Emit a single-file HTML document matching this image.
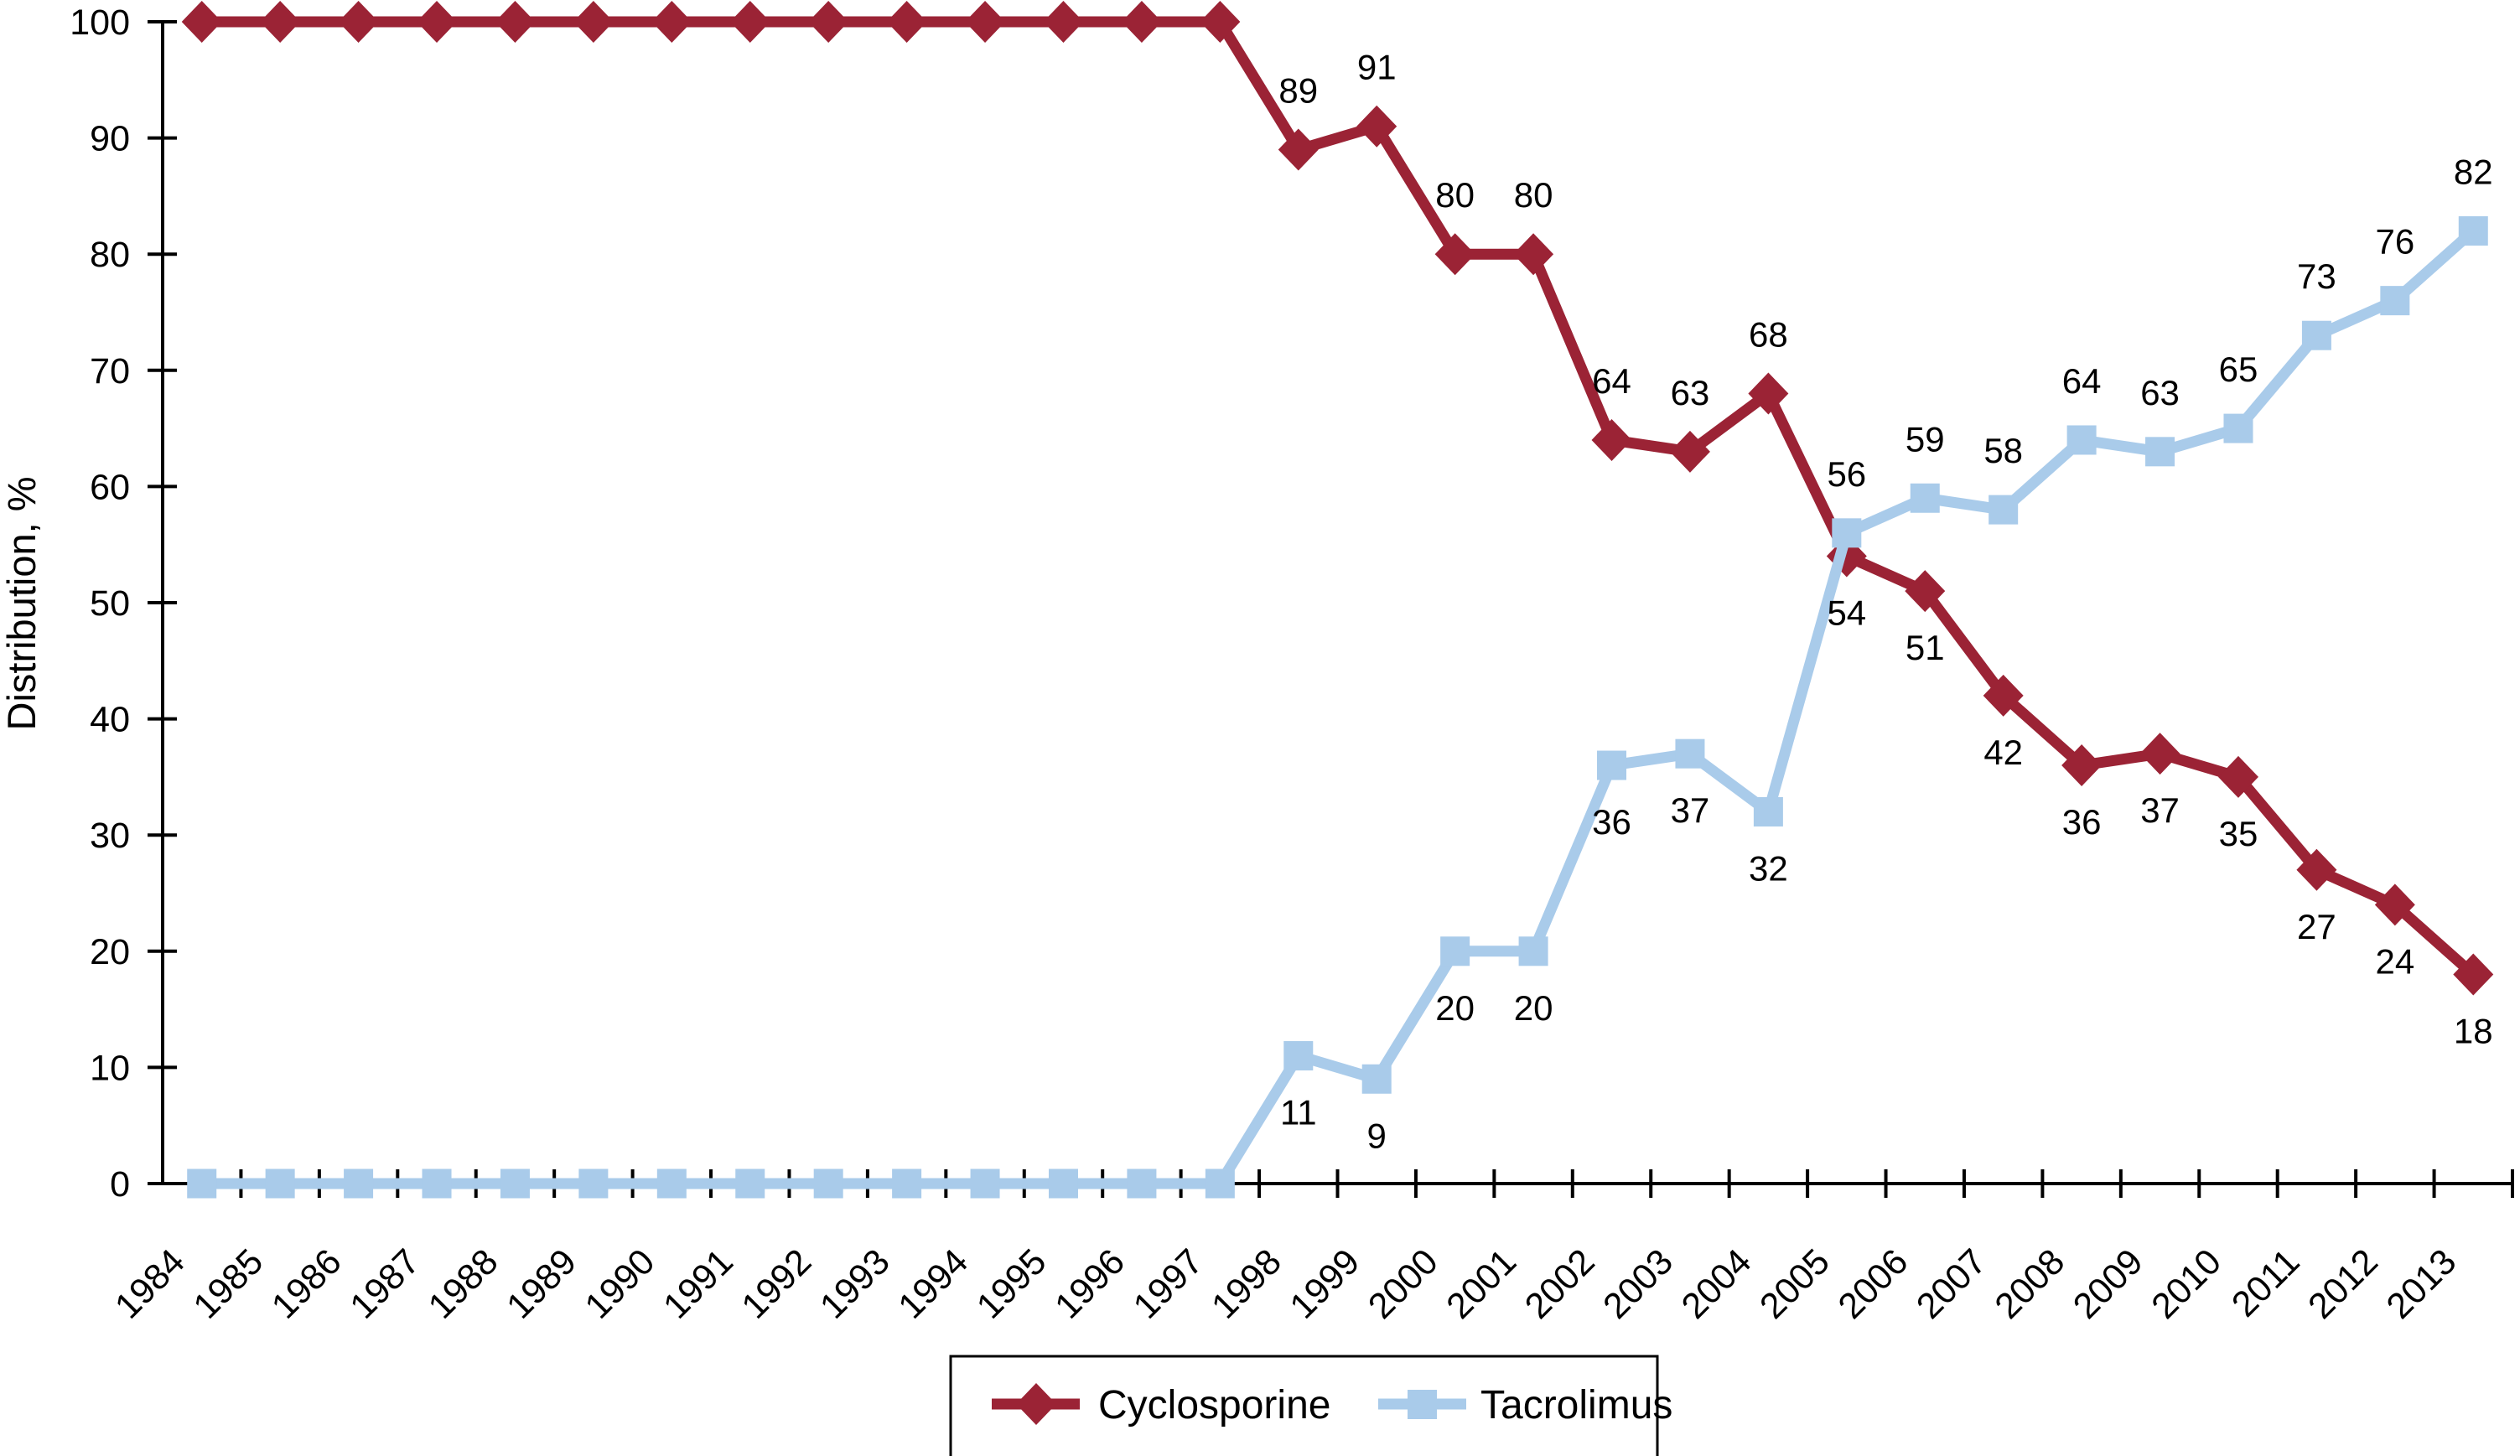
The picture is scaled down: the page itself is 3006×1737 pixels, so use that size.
<!DOCTYPE html>
<html><head><meta charset="utf-8"><style>
html,body{margin:0;padding:0;background:#fff;}
svg{display:block;font-family:"Liberation Sans",Arial,sans-serif;}
</style></head><body>
<svg id="chart" width="3006" height="1737" viewBox="0 0 3006 1737">
<g id="axes"></g><g id="series"></g><g id="labels"></g>
<text x="0" y="0" transform="translate(42,720) rotate(-90)" text-anchor="middle" font-size="47">Distribution, %</text>
<g>
<rect x="1134" y="1618" width="843" height="125" fill="#fff" stroke="#000" stroke-width="3"/>
<g>
<line x1="1183" y1="1675" x2="1288" y2="1675" stroke="#9b2335" stroke-width="13"/>
<polygon points="1236,1650 1260,1675 1236,1700 1212,1675" fill="#9b2335"/>
<text x="1310" y="1692" font-size="48">Cyclosporine</text>
</g>
<g>
<line x1="1644" y1="1675" x2="1749" y2="1675" stroke="#a9cbea" stroke-width="13"/>
<rect x="1679" y="1658" width="35" height="35" fill="#a9cbea"/>
<text x="1766" y="1692" font-size="48">Tacrolimus</text>
</g>
</g>
</svg>
<script>
const years = ["1984","1985","1986","1987","1988","1989","1990","1991","1992","1993","1994","1995","1996","1997","1998","1999","2000","2001","2002","2003","2004","2005","2006","2007","2008","2009","2010","2011","2012","2013"];
const cyclosporine = [100,100,100,100,100,100,100,100,100,100,100,100,100,100,89,91,80,80,64,63,68,54,51,42,36,37,35,27,24,18];
const tacrolimus = [0,0,0,0,0,0,0,0,0,0,0,0,0,0,11,9,20,20,36,37,32,56,59,58,64,63,65,73,76,82];
const yTicks = [0,10,20,30,40,50,60,70,80,90,100];
const labelFromIndex = 14;
const crossIndex = 21;

const NS = "http://www.w3.org/2000/svg";
const X0 = 194, X1 = 2997, Y0 = 1412, Y100 = 26;
const step = (X1 - X0) / years.length;
function xPos(i){ return X0 + step * (i + 0.5); }
function yPos(v){ return Y0 - (Y0 - Y100) * v / 100; }
function mk(tag, attrs, parent){ const e = document.createElementNS(NS, tag); for (const k in attrs) e.setAttribute(k, attrs[k]); parent.appendChild(e); return e; }

const axes = document.getElementById('axes');
const series = document.getElementById('series');
const labels = document.getElementById('labels');

let ax = mk('line', {x1:X0, y1:Y100, x2:X0, y2:Y0, stroke:'#000', 'stroke-width':4}, axes);


let xa = mk('line', {x1:X0, y1:Y0, x2:X1+2, y2:Y0, stroke:'#000', 'stroke-width':4}, axes);



yTicks.forEach(v => {
  const y = yPos(v);
  let t = mk('line', {x1:176, y1:y, x2:211, y2:y, stroke:'#000', 'stroke-width':4}, axes);
  
  
  let l = mk('text', {x:155, y:y+15, 'text-anchor':'end', 'font-size':43}, axes);
  l.textContent = v;
  
  
});
for (let i = 1; i <= years.length; i++) {
  const x = X0 + step * i;
  let t = mk('line', {x1:x, y1:Y0-17, x2:x, y2:Y0+17, stroke:'#000', 'stroke-width':4}, axes);
  
  
}
years.forEach((yr, i) => {
  const x = xPos(i) - 18, y = 1508;
  let l = mk('text', {x:x, y:y, 'text-anchor':'end', 'font-size':43, transform:`rotate(-45 ${x} ${y})`}, axes);
  l.textContent = yr;
  
  
});

function drawSeries(vals, color, marker, name, aboveBefore) {
  const pts = vals.map((v, i) => xPos(i) + ',' + yPos(v)).join(' ');
  let pl = mk('polyline', {points:pts, fill:'none', stroke:color, 'stroke-width':13, 'stroke-linejoin':'miter'}, series);
  
  
  vals.forEach((v, i) => {
    const x = xPos(i), y = yPos(v);
    let m;
    if (marker === 'diamond') m = mk('polygon', {points:`${x},${y-25} ${x+24},${y} ${x},${y+25} ${x-24},${y}`, fill:color}, series);
    else m = mk('rect', {x:x-17.5, y:y-17.5, width:35, height:35, fill:color}, series);
    
    
    if (i >= labelFromIndex) {
      const above = (i < crossIndex) ? aboveBefore : !aboveBefore;
      let t = mk('text', {x:x, y: above ? y-56 : y+82, 'text-anchor':'middle', 'font-size':42}, labels);
      t.textContent = v;
      
      
    }
  });
}
drawSeries(cyclosporine, '#9b2335', 'diamond', 'cyclosporine', true);
drawSeries(tacrolimus, '#a9cbea', 'square', 'tacrolimus', false);
</script>
</body></html>
